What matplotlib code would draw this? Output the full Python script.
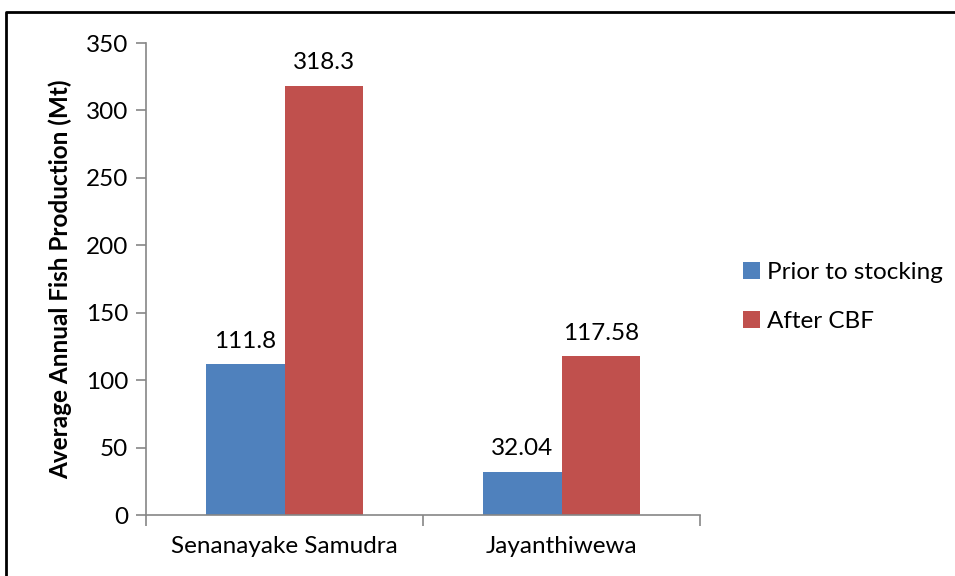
import matplotlib

matplotlib.use("Agg")
import matplotlib.pyplot as plt
from matplotlib.lines import Line2D
import numpy as np

lakes = ["Senanayake Samudra", "Jayanthiwewa"]
prior = [111.8, 32.04]
after = [318.3, 117.58]
prior_labels = ["111.8", "32.04"]
after_labels = ["318.3", "117.58"]
series_names = ["Prior to stocking", "After CBF"]

BLUE = "#4F81BD"
RED = "#C0504D"
AXIS = "#868686"
FS = 17.5

plt.rcParams["font.family"] = ["Lato", "DejaVu Sans"]

fig = plt.figure(figsize=(9.55, 5.76), dpi=100)
ax = fig.add_axes([146 / 955, 1 - 515 / 576, (700 - 146) / 955, (515 - 43) / 576])

x = np.arange(len(lakes))
w = 0.285
b1 = ax.bar(x - w / 2, prior, w, color=BLUE, label=series_names[0])
b2 = ax.bar(x + w / 2, after, w, color=RED, label=series_names[1])

for bars, labels in ((b1, prior_labels), (b2, after_labels)):
    for rect, lab in zip(bars, labels):
        ax.annotate(lab, (rect.get_x() + rect.get_width() / 2, rect.get_height()),
                    xytext=(0, 9), textcoords="offset points",
                    ha="center", va="bottom", fontsize=FS, color="black")

ax.set_xlim(-0.5, 1.5)
ax.set_ylim(0, 350)
ax.set_yticks(range(0, 351, 50))
ax.set_xticks(x)
ax.set_xticklabels(lakes)
ax.set_xticks([-0.5, 0.5, 1.5], minor=True)
ax.tick_params(axis="x", which="major", length=0, labelsize=FS, pad=15)
ax.tick_params(axis="x", which="minor", length=8, width=1.2, color=AXIS, direction="out")
ax.tick_params(axis="y", length=7, width=1.2, color=AXIS, labelsize=FS, pad=6)

for side in ("top", "right"):
    ax.spines[side].set_visible(False)
for side in ("left", "bottom"):
    ax.spines[side].set_color(AXIS)
    ax.spines[side].set_linewidth(1.2)

ax.set_ylabel("Average Annual Fish Production (Mt)", fontsize=FS, fontweight="bold", labelpad=10)

ax.legend(loc="center left", bbox_to_anchor=(1.06, 0.462), frameon=False,
          fontsize=FS, handlelength=0.7, handleheight=0.7, handletextpad=0.3,
          labelspacing=1.15, borderaxespad=0)

# outer frame (top and left edges only visible in the crop)
fig.add_artist(Line2D([6 / 955, 6 / 955, 1.0], [0.0, 1 - 12 / 576, 1 - 12 / 576],
                      transform=fig.transFigure, color="black", linewidth=2))

fig.savefig("out.png", dpi=100, facecolor="white")
